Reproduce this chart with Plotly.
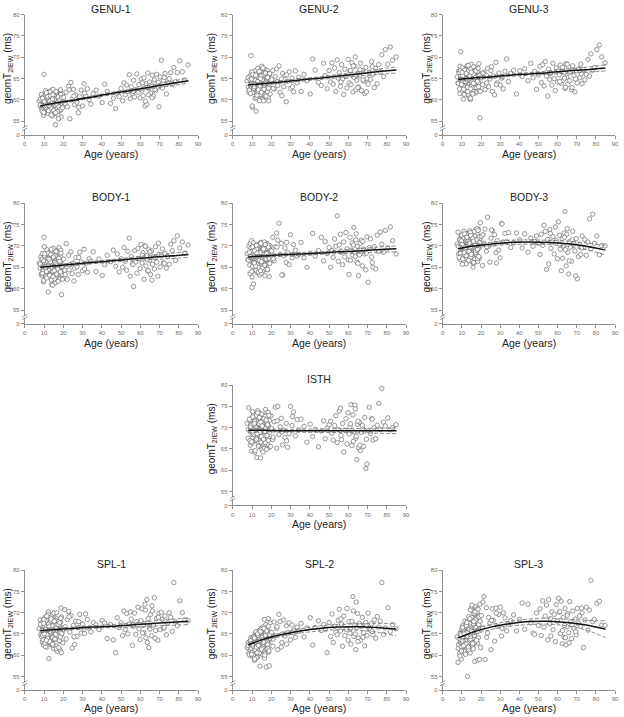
import plotly.graph_objects as go

# ---------------- data ----------------
AGE = [
    7.5, 8.0, 8.3, 8.8, 9.1, 9.4, 9.7, 10.0, 10.2, 10.5,
    10.8, 11.0, 11.3, 11.5, 11.8, 12.0, 12.2, 12.5, 12.7, 13.0,
    13.2, 13.4, 13.6, 13.9, 14.1, 14.3, 14.5, 14.8, 15.0, 15.2,
    15.4, 15.6, 15.9, 16.1, 16.3, 16.5, 16.7, 17.0, 17.2, 17.4,
    17.6, 17.8, 18.0, 18.2, 18.4, 18.6, 18.9, 19.1, 19.4, 19.8,
    8.1, 8.6, 9.0, 9.5, 9.9, 10.3, 10.7, 11.1, 11.6, 12.1,
    12.4, 12.8, 13.1, 13.5, 13.8, 14.0, 14.4, 14.7, 15.1, 15.5,
    15.8, 16.0, 16.4, 16.8, 17.1, 17.5, 17.9, 18.3, 18.7, 19.0,
    9.2, 9.8, 10.4, 10.9, 11.4, 11.9, 12.3, 12.9, 13.3, 13.7,
    14.2, 14.6, 14.9, 15.3, 15.7, 16.2, 16.6, 16.9, 17.3, 17.7,
    18.1, 18.5, 18.8, 19.2, 19.6, 10.1, 11.2, 12.6, 14.4, 16.0,
    20.2, 20.8, 21.5, 22.1, 22.8, 23.4, 24.0, 24.6, 25.2, 25.9,
    26.5, 27.1, 27.8, 28.5, 29.3, 30.0, 30.8, 31.6, 32.5, 33.4,
    34.3, 35.5, 37.0, 38.5, 40.2, 41.5, 42.8, 44.5, 46.0, 47.2,
    48.0, 49.0, 50.0, 50.8, 51.5, 52.2, 52.9, 53.5, 54.2, 54.8,
    55.3, 55.9, 56.5, 57.0, 57.6, 58.2, 58.8, 59.3, 59.9, 60.4,
    60.9, 61.4, 61.9, 62.4, 62.9, 63.4, 63.9, 64.4, 64.8, 65.3,
    65.8, 66.3, 66.8, 67.3, 67.9, 68.5, 69.1, 69.7, 70.3, 70.9,
    71.5, 72.1, 72.8, 73.5, 74.2, 75.0, 75.8, 76.6, 77.4, 78.3,
    79.2, 80.5, 81.8, 83.0, 84.8, 21.0, 23.0, 25.5, 28.0, 31.0,
    56.2, 61.1, 62.6, 63.6, 64.1, 65.0, 66.0, 67.6, 69.4, 72.4,
]

GENU_1 = [
    59.8, 58.5, 60.2, 57.9, 59.1, 61.0, 56.4, 66.0, 58.7, 60.5,
    57.6, 59.9, 61.5, 58.3, 60.8, 56.9, 59.4, 62.0, 58.0, 60.1,
    61.2, 57.3, 59.6, 58.8, 62.3, 56.2, 60.4, 59.0, 57.7, 61.6,
    58.4, 60.9, 54.2, 59.3, 57.1, 61.8, 58.9, 60.3, 56.6, 59.7,
    61.1, 58.1, 60.6, 57.5, 62.1, 59.2, 56.0, 60.0, 58.6, 61.4,
    58.9, 61.3, 57.4, 60.7, 59.5, 57.0, 62.2, 58.2, 60.3, 59.0,
    60.0, 57.8, 61.9, 59.1, 56.5, 60.6, 58.3, 62.5, 59.8, 57.2,
    60.2, 58.5, 61.7, 57.9, 59.6, 55.6, 60.9, 58.0, 61.3, 59.3,
    60.4, 57.1, 59.2, 61.4, 58.6, 60.8, 57.5, 59.7, 61.0, 58.1,
    59.4, 61.2, 57.6, 60.1, 58.8, 62.0, 59.0, 57.3, 60.7, 58.4,
    59.9, 62.4, 57.8, 60.5, 58.2, 59.6, 61.7, 58.7, 60.2, 57.0,
    60.6, 59.0, 61.8, 58.4, 63.2, 55.6, 64.1, 60.2, 62.5, 58.9,
    61.2, 59.5, 57.0, 60.8, 62.3, 58.6, 63.8, 61.0, 62.6, 60.1,
    59.0, 61.5, 62.3, 60.9, 59.4, 63.7, 62.0, 59.2, 60.4, 58.0,
    61.5, 60.8, 62.7, 59.8, 64.0, 61.2, 63.5, 62.0, 65.9, 60.3,
    63.1, 61.5, 64.6, 60.7, 62.4, 66.1, 61.8, 63.6, 60.5, 64.9,
    62.3, 61.0, 65.2, 58.6, 63.8, 59.0, 66.3, 62.7, 64.2, 61.6,
    63.5, 65.8, 60.9, 64.7, 62.2, 66.0, 63.0, 58.4, 65.4, 69.3,
    62.8, 64.6, 66.2, 61.4, 63.9, 65.0, 66.4, 63.6, 67.6, 64.3,
    66.4, 69.2, 66.6, 64.7, 68.2, 59.2, 62.4, 60.9, 58.3, 61.6,
    62.0, 64.0, 59.7, 62.9, 61.2, 63.3, 60.5, 62.5, 64.1, 65.3,
]

GENU_2 = [
    64.5, 63.0, 61.8, 65.6, 62.5, 70.4, 64.0, 66.3, 58.3, 63.4,
    65.9, 62.1, 64.7, 60.4, 66.8, 63.3, 65.2, 61.6, 64.1, 67.4,
    62.9, 65.5, 60.9, 64.4, 66.2, 63.7, 61.3, 65.0, 67.9, 62.4,
    64.8, 60.2, 66.5, 63.1, 65.4, 61.0, 64.2, 67.1, 62.7, 65.8,
    63.6, 66.9, 61.9, 64.9, 60.6, 65.7, 63.0, 66.0, 61.4, 64.3,
    65.2, 62.3, 64.8, 63.2, 66.6, 61.7, 65.5, 62.8, 64.6, 57.4,
    66.1, 63.9, 62.0, 65.3, 59.9, 64.0, 66.8, 62.6, 63.5, 65.0,
    62.2, 65.9, 63.4, 61.2, 66.4, 64.5, 62.9, 65.1, 59.8, 63.8,
    61.5, 64.9, 66.0, 62.7, 63.7, 65.8, 60.6, 64.3, 62.4, 66.7,
    63.3, 65.6, 61.8, 64.7, 67.5, 62.5, 63.9, 66.3, 60.9, 64.1,
    65.3, 62.8, 63.7, 66.2, 64.6, 58.6, 63.1, 61.1, 65.0, 59.8,
    64.8, 66.9, 62.6, 65.5, 67.3, 63.4, 68.0, 61.8, 64.9, 66.2,
    63.1, 65.7, 59.6, 64.4, 66.6, 62.7, 65.1, 61.9, 66.8, 64.0,
    65.3, 62.0, 66.0, 64.5, 61.4, 69.6, 67.0, 64.1, 63.4, 68.6,
    65.7, 62.6, 66.9, 64.2, 68.7, 63.7, 67.5, 62.0, 69.4, 65.1,
    66.4, 63.2, 68.3, 64.9, 61.3, 67.2, 65.5, 62.8, 69.5, 64.0,
    66.8, 63.6, 68.7, 61.9, 65.3, 67.9, 62.4, 64.6, 66.1, 63.0,
    65.7, 68.6, 62.2, 66.9, 64.4, 61.5, 67.6, 65.0, 63.7, 66.3,
    64.8, 69.0, 66.0, 62.9, 67.4, 63.8, 68.3, 66.6, 70.6, 65.5,
    71.8, 68.4, 72.4, 69.3, 70.1, 62.7, 64.3, 61.0, 65.9, 63.1,
    64.2, 66.9, 68.0, 70.1, 65.8, 62.9, 67.1, 64.7, 61.9, 67.8,
]

GENU_3 = [
    65.4, 64.0, 66.7, 62.6, 67.9, 71.3, 65.0, 63.5, 66.3, 64.6,
    60.2, 66.0, 63.8, 67.2, 65.2, 62.1, 66.6, 64.4, 68.0, 63.1,
    65.8, 61.0, 67.4, 64.9, 62.8, 66.2, 60.1, 65.5, 68.3, 63.6,
    64.3, 66.9, 62.3, 65.7, 67.7, 63.4, 65.1, 61.6, 66.4, 64.7,
    67.0, 63.0, 65.9, 62.7, 66.5, 64.2, 68.5, 63.7, 55.8, 65.3,
    63.9, 66.4, 61.5, 65.6, 64.1, 67.5, 63.2, 66.1, 62.4, 65.0,
    67.1, 64.5, 62.0, 66.8, 65.3, 60.5, 64.8, 67.3, 63.3, 65.9,
    62.9, 66.0, 64.6, 67.6, 63.5, 65.4, 61.9, 66.7, 64.0, 62.2,
    66.9, 63.6, 65.7, 62.5, 67.0, 64.3, 66.2, 63.0, 68.1, 64.9,
    65.6, 62.6, 66.5, 64.2, 61.4, 67.8, 63.8, 65.2, 66.8, 62.9,
    64.4, 67.4, 63.1, 65.8, 62.0, 66.5, 61.3, 64.7, 60.4, 63.9,
    65.2, 63.6, 66.4, 62.4, 65.8, 67.4, 63.1, 64.9, 66.9, 62.0,
    65.6, 61.2, 68.8, 64.0, 66.3, 63.5, 65.1, 62.6, 66.7, 69.6,
    64.3, 66.2, 67.0, 61.4, 66.8, 65.5, 67.3, 64.5, 68.6, 65.2,
    66.7, 62.5, 65.9, 67.9, 64.1, 68.3, 63.3, 69.0, 65.6, 60.9,
    67.2, 64.8, 66.3, 63.5, 68.6, 65.0, 62.2, 67.5, 64.2, 66.8,
    65.9, 68.2, 63.9, 67.0, 64.6, 66.4, 62.7, 68.5, 65.3, 63.6,
    67.8, 64.5, 66.6, 62.4, 68.0, 65.7, 61.9, 66.9, 64.0, 67.3,
    65.2, 68.4, 63.8, 67.1, 64.7, 66.0, 69.5, 65.6, 70.8, 67.0,
    67.6, 71.8, 72.9, 70.1, 68.7, 66.3, 64.0, 67.8, 63.6, 65.4,
    66.2, 64.3, 67.6, 65.1, 63.0, 68.4, 66.5, 62.9, 64.9, 66.1,
]

BODY_1 = [
    66.0, 64.8, 67.4, 63.1, 68.2, 65.3, 61.6, 72.0, 66.6, 64.2,
    67.0, 62.7, 65.8, 69.1, 63.9, 66.3, 59.2, 64.6, 67.9, 65.1,
    63.4, 68.6, 66.1, 62.0, 65.5, 67.3, 64.0, 69.4, 63.0, 66.8,
    65.2, 61.3, 67.8, 64.4, 66.5, 62.6, 68.9, 65.6, 63.7, 67.1,
    64.1, 69.6, 65.9, 62.4, 67.5, 64.7, 66.2, 58.6, 63.3, 65.0,
    65.7, 63.5, 66.9, 64.3, 61.9, 67.6, 65.1, 62.9, 66.4, 68.3,
    64.5, 66.7, 63.2, 68.0, 65.4, 61.0, 67.2, 64.9, 66.0, 62.3,
    67.7, 65.3, 63.8, 68.5, 64.6, 66.6, 62.1, 65.9, 69.0, 64.0,
    63.6, 66.5, 68.1, 64.8, 62.5, 67.0, 65.5, 63.1, 66.3, 69.2,
    65.0, 62.8, 67.4, 64.2, 66.1, 68.7, 63.4, 65.8, 61.7, 67.1,
    66.4, 63.9, 68.3, 65.2, 62.2, 69.8, 64.0, 66.9, 60.8, 65.6,
    66.9, 64.3, 70.5, 62.2, 67.8, 65.6, 68.6, 63.5, 66.0, 64.8,
    67.3, 65.1, 63.3, 68.5, 66.2, 64.2, 69.2, 65.9, 63.8, 67.0,
    66.4, 68.6, 64.0, 66.9, 63.1, 65.6, 67.8, 66.3, 69.0, 65.2,
    68.1, 63.9, 67.0, 65.0, 69.6, 66.4, 64.3, 68.7, 71.8, 62.9,
    67.5, 65.8, 60.5, 68.9, 66.2, 63.6, 69.4, 67.0, 64.7, 70.3,
    66.0, 68.4, 62.2, 70.0, 65.3, 67.7, 64.1, 69.1, 66.6, 63.3,
    68.8, 65.7, 67.4, 64.6, 69.8, 66.2, 62.9, 68.0, 65.1, 67.9,
    69.3, 66.0, 68.2, 64.8, 67.5, 65.7, 70.4, 68.9, 71.2, 66.6,
    72.3, 69.5, 70.9, 68.3, 70.2, 63.3, 64.4, 61.8, 67.3, 64.6,
    65.6, 67.8, 69.9, 66.8, 64.2, 68.6, 62.0, 67.2, 70.6, 65.9,
]

BODY_2 = [
    68.2, 66.8, 69.9, 65.5, 70.6, 67.4, 71.2, 60.3, 68.8, 66.1,
    61.1, 69.4, 67.0, 64.6, 70.1, 66.5, 68.6, 63.8, 69.7, 67.2,
    65.9, 70.4, 67.8, 63.2, 69.0, 66.3, 70.8, 64.8, 68.3, 66.9,
    69.5, 64.1, 67.6, 70.2, 65.4, 68.9, 63.0, 67.1, 69.8, 65.7,
    67.9, 70.5, 64.4, 68.4, 66.0, 69.3, 62.8, 67.5, 70.0, 66.6,
    66.7, 68.5, 63.5, 69.6, 67.3, 65.2, 70.7, 66.2, 68.1, 64.3,
    69.2, 65.6, 67.7, 64.9, 70.3, 66.4, 68.7, 63.6, 67.0, 69.1,
    65.0, 68.0, 70.9, 66.8, 64.6, 69.4, 67.2, 65.8, 70.2, 68.6,
    67.5, 64.0, 69.8, 66.1, 68.8, 65.3, 70.1, 67.9, 63.9, 66.6,
    68.4, 70.6, 66.3, 64.8, 69.0, 67.4, 65.5, 70.3, 66.9, 68.2,
    64.5, 69.7, 67.1, 65.9, 68.9, 62.7, 66.0, 68.3, 64.2, 69.3,
    68.8, 72.0, 66.5, 69.8, 73.0, 71.3, 75.3, 68.0, 70.6, 63.2,
    67.7, 69.5, 66.1, 68.4, 65.6, 72.6, 67.2, 70.3, 69.0, 67.6,
    68.0, 70.8, 67.2, 65.0, 68.3, 72.9, 67.6, 68.9, 72.0, 66.5,
    71.0, 68.2, 69.6, 65.0, 68.9, 67.3, 71.6, 69.9, 77.0, 66.4,
    70.2, 72.7, 68.5, 65.6, 70.9, 67.4, 73.1, 69.3, 66.7, 63.3,
    72.0, 69.0, 70.7, 67.8, 74.3, 68.5, 71.4, 66.2, 69.9, 63.0,
    67.9, 70.6, 71.3, 65.3, 69.2, 68.1, 64.4, 72.1, 61.5, 69.6,
    71.6, 67.4, 65.0, 69.8, 64.6, 72.5, 68.7, 73.2, 70.4, 68.5,
    73.6, 69.5, 74.4, 71.2, 68.1, 67.0, 69.7, 63.2, 70.8, 68.0,
    68.8, 66.6, 70.2, 67.5, 72.8, 65.9, 69.0, 71.0, 68.3, 66.1,
]

BODY_3 = [
    70.4, 73.2, 68.1, 71.5, 66.8, 69.7, 72.4, 67.5, 70.9, 68.8,
    71.8, 66.2, 69.4, 73.0, 67.9, 70.2, 65.8, 72.0, 68.5, 71.2,
    69.0, 72.9, 67.2, 70.6, 73.5, 68.3, 71.6, 66.4, 69.8, 72.2,
    67.6, 70.9, 65.0, 72.6, 69.3, 71.9, 66.9, 70.3, 73.8, 68.0,
    71.3, 68.7, 72.8, 66.3, 70.0, 73.9, 69.5, 67.1, 71.7, 70.7,
    69.9, 67.3, 71.4, 68.6, 72.5, 65.7, 70.5, 73.4, 67.8, 70.1,
    72.7, 68.9, 70.3, 66.6, 71.0, 69.2, 73.1, 67.4, 70.8, 68.2,
    71.5, 66.0, 69.6, 72.3, 68.4, 70.7, 74.0, 67.0, 69.4, 72.1,
    68.3, 71.1, 66.9, 70.0, 72.8, 69.1, 67.7, 71.9, 70.4, 68.7,
    70.6, 72.4, 68.0, 69.5, 71.7, 66.1, 73.3, 70.2, 68.9, 71.4,
    69.2, 73.6, 67.5, 70.8, 75.4, 70.3, 68.4, 72.0, 69.6, 71.1,
    72.2, 65.4, 70.6, 73.9, 68.7, 76.7, 69.9, 66.2, 71.8, 73.6,
    70.4, 72.6, 68.4, 71.2, 69.0, 67.2, 75.2, 70.9, 72.9, 71.0,
    73.1, 69.6, 70.7, 73.0, 71.4, 69.5, 72.8, 68.5, 71.8, 69.9,
    71.0, 72.3, 70.6, 68.0, 72.7, 70.1, 74.8, 73.4, 64.5, 71.5,
    65.8, 73.8, 69.4, 70.9, 72.2, 68.1, 74.4, 71.2, 67.0, 75.6,
    72.5, 69.2, 64.2, 71.6, 70.0, 73.0, 78.0, 65.3, 72.7, 68.5,
    63.4, 71.0, 69.7, 66.4, 73.4, 70.5, 68.8, 71.7, 62.3, 67.5,
    70.3, 68.0, 72.3, 69.6, 71.5, 67.8, 70.9, 76.3, 69.4, 77.4,
    70.6, 72.3, 67.9, 70.1, 70.0, 72.6, 69.8, 73.7, 66.0, 75.1,
    72.9, 70.2, 67.1, 72.0, 69.1, 74.0, 66.5, 71.4, 63.0, 69.5,
]

ISTH = [
    71.0, 67.5, 74.7, 69.2, 65.9, 70.8, 64.5, 72.3, 68.4, 66.8,
    73.1, 68.9, 64.2, 71.6, 67.1, 70.2, 72.9, 63.0, 69.7, 74.0,
    66.3, 71.9, 68.2, 73.4, 65.5, 70.5, 67.8, 72.6, 69.0, 64.8,
    70.9, 66.9, 73.0, 68.6, 71.3, 65.2, 69.9, 74.3, 67.4, 71.1,
    68.1, 72.2, 66.0, 70.3, 73.6, 67.2, 71.7, 65.4, 69.5, 72.8,
    69.6, 72.0, 67.0, 70.6, 66.4, 73.8, 68.7, 71.4, 64.6, 70.0,
    67.6, 71.2, 69.3, 65.8, 72.4, 68.3, 70.7, 66.6, 73.2, 69.1,
    71.8, 68.0, 66.2, 72.7, 69.8, 64.9, 71.0, 67.7, 70.4, 68.8,
    70.1, 66.7, 72.5, 68.5, 71.5, 69.4, 67.3, 73.5, 65.7, 70.9,
    68.9, 71.3, 67.9, 70.4, 64.3, 72.1, 69.1, 66.5, 71.8, 68.2,
    70.7, 67.0, 72.9, 69.6, 65.6, 69.0, 71.0, 68.6, 62.9, 67.3,
    69.8, 67.2, 71.4, 74.8, 65.2, 75.0, 68.4, 70.2, 72.2, 66.0,
    69.4, 67.7, 71.0, 65.4, 68.6, 75.0, 70.5, 73.7, 68.1, 71.9,
    69.5, 72.0, 70.3, 66.6, 70.8, 67.9, 69.6, 65.5, 69.2, 71.6,
    67.4, 69.9, 70.7, 71.5, 68.7, 67.1, 70.5, 72.8, 66.5, 69.6,
    73.9, 74.6, 67.2, 71.0, 64.3, 69.4, 72.1, 66.2, 73.5, 68.5,
    70.2, 75.4, 65.8, 73.0, 69.0, 75.3, 67.5, 62.5, 70.8, 65.3,
    71.3, 64.6, 68.9, 70.5, 65.6, 72.4, 60.4, 61.5, 69.3, 74.8,
    68.6, 72.1, 67.1, 70.0, 67.4, 70.6, 75.7, 69.6, 79.2, 71.3,
    70.4, 72.3, 69.5, 70.0, 70.7, 67.8, 71.6, 69.0, 66.9, 72.6,
    68.2, 70.9, 66.8, 74.4, 68.0, 71.5, 65.9, 69.7, 67.3, 72.0,
]

SPL_1 = [
    66.2, 68.3, 64.9, 67.6, 63.1, 65.8, 62.4, 66.9, 64.2, 68.9,
    65.3, 63.8, 67.2, 61.9, 66.5, 64.6, 70.2, 59.2, 65.9, 68.0,
    63.5, 67.8, 65.1, 69.3, 62.7, 66.6, 64.3, 68.5, 61.6, 66.0,
    69.8, 64.0, 67.0, 62.2, 65.6, 68.6, 60.9, 66.3, 63.9, 67.4,
    65.0, 68.1, 63.3, 66.8, 61.2, 67.7, 64.7, 69.0, 65.4, 62.9,
    67.3, 64.4, 66.0, 63.6, 68.4, 65.2, 62.0, 67.0, 64.8, 69.6,
    66.7, 63.0, 68.8, 65.5, 62.5, 67.1, 64.1, 66.4, 69.9, 63.7,
    65.7, 68.2, 61.5, 66.5, 64.5, 67.9, 63.4, 65.3, 68.7, 60.6,
    64.7, 67.5, 62.8, 66.1, 69.2, 64.0, 67.3, 63.2, 65.6, 68.5,
    66.9, 62.3, 65.8, 68.0, 63.8, 66.4, 70.0, 64.6, 67.2, 61.8,
    67.6, 64.3, 71.1, 65.1, 66.3, 65.0, 63.5, 66.8, 62.6, 64.9,
    66.1, 70.7, 63.8, 68.4, 70.3, 65.4, 69.3, 61.7, 67.0, 62.5,
    68.0, 64.4, 66.5, 69.6, 65.2, 67.3, 66.0, 69.7, 68.4, 66.4,
    65.5, 67.7, 67.1, 66.0, 68.2, 67.6, 63.9, 67.2, 63.6, 60.6,
    68.8, 66.5, 67.6, 64.6, 70.4, 66.0, 69.8, 65.0, 67.3, 70.2,
    68.5, 62.3, 66.8, 69.9, 64.9, 67.9, 71.3, 66.2, 63.7, 68.1,
    70.9, 67.0, 65.3, 72.0, 64.1, 73.1, 67.5, 61.8, 66.4, 69.6,
    64.6, 70.4, 67.1, 73.5, 65.8, 68.7, 63.5, 69.9, 66.0, 70.1,
    68.4, 66.3, 69.2, 64.8, 67.6, 70.0, 68.9, 65.6, 77.1, 67.8,
    66.9, 72.8, 70.0, 68.3, 68.1, 66.7, 69.0, 64.3, 67.9, 65.1,
    67.1, 65.2, 70.6, 63.0, 68.6, 66.1, 71.6, 64.0, 68.9, 66.6,
]

SPL_2 = [
    61.8, 63.0, 60.5, 62.6, 61.2, 64.1, 59.8, 62.9, 60.9, 63.7,
    61.5, 64.4, 58.8, 62.3, 65.2, 60.3, 63.5, 61.0, 64.8, 59.6,
    62.7, 65.6, 60.6, 63.9, 57.4, 64.5, 61.7, 66.3, 62.1, 64.9,
    60.2, 63.4, 66.7, 61.9, 64.7, 59.3, 65.9, 62.8, 67.2, 57.2,
    64.2, 61.4, 66.0, 63.1, 68.6, 60.7, 65.3, 62.4, 67.6, 63.8,
    62.2, 60.1, 63.3, 61.6, 62.5, 64.0, 60.0, 63.6, 61.3, 65.5,
    59.4, 63.2, 64.6, 61.1, 65.8, 62.0, 60.8, 66.1, 63.0, 61.8,
    64.3, 62.6, 68.4, 60.4, 65.1, 63.7, 66.6, 61.5, 64.9, 57.5,
    63.4, 60.2, 62.1, 64.3, 59.1, 63.0, 61.9, 65.0, 62.3, 60.5,
    63.3, 65.4, 61.4, 64.2, 62.9, 66.3, 60.0, 64.6, 63.5, 65.7,
    62.5, 66.8, 61.0, 64.8, 63.9, 62.4, 64.0, 60.6, 65.6, 63.1,
    65.4, 62.1, 67.8, 64.6, 66.3, 61.3, 69.6, 67.9, 61.9, 65.0,
    68.3, 64.5, 66.9, 65.3, 67.6, 63.6, 67.1, 65.8, 64.2, 66.6,
    65.7, 67.5, 64.3, 66.4, 68.8, 62.4, 66.5, 68.1, 65.8, 67.2,
    66.0, 60.6, 67.7, 64.4, 69.7, 63.0, 66.8, 65.4, 64.8, 68.2,
    70.8, 65.7, 67.3, 62.1, 69.2, 64.6, 66.1, 71.0, 63.5, 67.9,
    65.2, 62.6, 68.0, 73.8, 64.4, 67.1, 61.3, 66.5, 69.8, 64.0,
    67.5, 63.4, 66.8, 68.9, 65.3, 62.2, 67.7, 64.6, 69.9, 66.3,
    65.9, 67.4, 64.8, 68.3, 64.0, 69.1, 66.6, 68.0, 77.1, 64.9,
    66.4, 71.2, 65.6, 67.2, 66.2, 63.8, 66.7, 63.0, 62.6, 65.3,
    68.5, 66.2, 70.4, 65.0, 72.5, 63.2, 67.0, 64.2, 66.9, 65.6,
]

SPL_3 = [
    64.3, 58.3, 62.5, 60.4, 65.1, 63.0, 59.1, 66.2, 61.7, 64.0,
    62.8, 65.8, 60.7, 68.0, 63.5, 66.6, 61.2, 64.7, 67.3, 55.0,
    66.0, 62.1, 69.1, 64.2, 67.6, 60.5, 65.5, 71.0, 63.2, 68.4,
    65.0, 70.4, 62.4, 67.1, 64.5, 69.6, 58.5, 66.4, 71.4, 63.7,
    68.7, 65.7, 70.0, 62.8, 67.8, 64.1, 69.3, 66.1, 72.0, 61.8,
    61.6, 63.9, 59.8, 64.8, 62.0, 66.9, 63.4, 60.9, 65.6, 62.6,
    67.5, 64.4, 68.1, 61.3, 66.3, 63.6, 70.6, 65.2, 68.9, 62.3,
    64.0, 67.4, 69.8, 63.0, 68.3, 65.4, 70.9, 58.8, 66.8, 69.0,
    63.1, 61.0, 66.5, 62.2, 64.9, 60.2, 67.0, 65.3, 61.9, 66.0,
    68.6, 63.8, 65.9, 71.8, 62.7, 67.9, 64.6, 70.2, 66.5, 63.5,
    65.6, 70.8, 67.2, 59.0, 68.0, 63.3, 65.0, 67.7, 64.4, 61.5,
    69.3, 66.4, 73.8, 59.0, 71.2, 65.2, 68.9, 67.5, 61.3, 70.9,
    68.2, 63.3, 71.1, 66.8, 69.6, 71.3, 64.5, 70.0, 68.8, 65.7,
    67.3, 68.1, 69.5, 65.7, 68.4, 72.3, 66.1, 72.0, 67.6, 65.2,
    64.9, 69.9, 67.0, 70.9, 64.6, 72.8, 66.6, 69.2, 71.8, 63.6,
    73.1, 67.4, 64.5, 70.2, 66.0, 69.6, 63.2, 71.9, 68.0, 73.4,
    70.1, 65.1, 72.7, 62.7, 68.9, 64.2, 71.0, 62.4, 66.7, 69.8,
    65.3, 72.6, 67.8, 63.9, 70.4, 66.3, 68.5, 64.8, 71.0, 67.4,
    69.2, 66.8, 70.0, 61.8, 68.3, 71.3, 65.9, 70.6, 77.6, 67.9,
    68.4, 72.2, 72.7, 67.1, 67.0, 72.5, 64.2, 68.2, 69.9, 66.3,
    68.6, 70.3, 65.8, 67.0, 64.1, 69.4, 62.9, 67.2, 65.5, 71.1,
]

# fitted curves with their confidence bands, read at these ages
FIT_AGE = [8, 15, 25, 35, 45, 55, 65, 75, 85]

GENU_1_FIT = [58.6, 59.2, 59.9, 60.7, 61.5, 62.2, 63.0, 63.8, 64.5]
GENU_1_LO = [58.1, 58.9, 59.65, 60.45, 61.2, 61.9, 62.6, 63.3, 63.9]
GENU_1_HI = [59.1, 59.5, 60.15, 60.95, 61.8, 62.5, 63.4, 64.3, 65.1]

GENU_2_FIT = [63.5, 63.8, 64.2, 64.7, 65.1, 65.6, 66.1, 66.6, 67.0]
GENU_2_LO = [63.0, 63.45, 63.9, 64.35, 64.8, 65.2, 65.6, 66.0, 66.3]
GENU_2_HI = [64.0, 64.15, 64.5, 65.05, 65.4, 66.0, 66.6, 67.2, 67.7]

GENU_3_FIT = [64.8, 65.1, 65.4, 65.8, 66.1, 66.4, 66.8, 67.1, 67.5]
GENU_3_LO = [64.3, 64.75, 65.1, 65.5, 65.8, 66.0, 66.3, 66.5, 66.8]
GENU_3_HI = [65.3, 65.45, 65.7, 66.1, 66.4, 66.8, 67.3, 67.7, 68.2]

BODY_1_FIT = [65.0, 65.3, 65.7, 66.1, 66.5, 66.9, 67.3, 67.6, 68.0]
BODY_1_LO = [64.5, 64.95, 65.4, 65.8, 66.2, 66.5, 66.8, 67.0, 67.3]
BODY_1_HI = [65.5, 65.65, 66.0, 66.4, 66.8, 67.3, 67.8, 68.2, 68.7]

BODY_2_FIT = [67.4, 67.6, 67.9, 68.1, 68.3, 68.6, 68.8, 69.1, 69.3]
BODY_2_LO = [66.9, 67.25, 67.6, 67.8, 68.0, 68.2, 68.3, 68.5, 68.6]
BODY_2_HI = [67.9, 67.95, 68.2, 68.4, 68.6, 69.0, 69.3, 69.7, 70.0]

BODY_3_FIT = [69.3, 69.9, 70.4, 70.8, 70.9, 70.8, 70.5, 69.9, 69.0]
BODY_3_LO = [68.6, 69.4, 70.0, 70.3, 70.4, 70.3, 69.9, 69.1, 67.9]
BODY_3_HI = [70.0, 70.4, 70.8, 71.3, 71.4, 71.3, 71.1, 70.7, 70.1]

ISTH_FIT = [69.4, 69.4, 69.3, 69.3, 69.3, 69.3, 69.3, 69.3, 69.3]
ISTH_LO = [68.9, 69.0, 69.0, 68.95, 68.9, 68.85, 68.8, 68.7, 68.6]
ISTH_HI = [69.9, 69.8, 69.6, 69.65, 69.7, 69.75, 69.8, 69.9, 70.0]

SPL_1_FIT = [65.8, 66.0, 66.3, 66.6, 66.8, 67.1, 67.4, 67.7, 68.0]
SPL_1_LO = [65.3, 65.65, 66.0, 66.3, 66.5, 66.6, 66.8, 67.0, 67.2]
SPL_1_HI = [66.3, 66.35, 66.6, 66.9, 67.2, 67.6, 68.0, 68.4, 68.8]

SPL_2_FIT = [62.4, 63.6, 64.8, 65.7, 66.3, 66.6, 66.7, 66.5, 66.1]
SPL_2_LO = [61.8, 63.2, 64.4, 65.2, 65.7, 66.0, 65.9, 65.4, 64.5]
SPL_2_HI = [63.0, 64.0, 65.2, 66.2, 66.9, 67.2, 67.4, 67.5, 67.4]

SPL_3_FIT = [64.0, 65.3, 66.6, 67.4, 67.9, 68.0, 67.7, 67.1, 66.1]
SPL_3_LO = [62.8, 64.6, 66.0, 66.8, 67.2, 67.3, 66.9, 65.9, 64.1]
SPL_3_HI = [65.6, 66.0, 67.2, 68.0, 68.5, 68.7, 68.5, 68.2, 68.1]

X_TICKS = [0, 10, 20, 30, 40, 50, 60, 70, 80, 90]
Y_TICK_LABELS = ["0", "55", "60", "65", "70", "75", "80"]
Y_TICK_VALUES = [55, 60, 65, 70, 75, 80]
Y_BREAK_BOTTOM = 51.75   # axis position that carries the "0" label below the break

PANELS = [
    ("GENU-1", GENU_1, GENU_1_FIT, GENU_1_LO, GENU_1_HI, 0, 0),
    ("GENU-2", GENU_2, GENU_2_FIT, GENU_2_LO, GENU_2_HI, 1, 0),
    ("GENU-3", GENU_3, GENU_3_FIT, GENU_3_LO, GENU_3_HI, 2, 0),
    ("BODY-1", BODY_1, BODY_1_FIT, BODY_1_LO, BODY_1_HI, 0, 1),
    ("BODY-2", BODY_2, BODY_2_FIT, BODY_2_LO, BODY_2_HI, 1, 1),
    ("BODY-3", BODY_3, BODY_3_FIT, BODY_3_LO, BODY_3_HI, 2, 1),
    ("ISTH", ISTH, ISTH_FIT, ISTH_LO, ISTH_HI, 1, 2),
    ("SPL-1", SPL_1, SPL_1_FIT, SPL_1_LO, SPL_1_HI, 0, 3),
    ("SPL-2", SPL_2, SPL_2_FIT, SPL_2_LO, SPL_2_HI, 1, 3),
    ("SPL-3", SPL_3, SPL_3_FIT, SPL_3_LO, SPL_3_HI, 2, 3),
]

for p in PANELS:
    assert len(p[1]) == len(AGE), (p[0], len(p[1]), len(AGE))

# ---------------- layout geometry (pixels) ----------------
W, H = 624, 717
COL_X = [(23, 198), (233, 408), (445, 619)]
ROW_Y = [(11.7, 133.3), (201.7, 323.7), (385.3, 506.7), (572.0, 693.0)]
XTITLE_OFF = [19, 19, 19, 18]
YTITLE_X = [6, 212, 429]

FONT = "Liberation Sans, Arial, sans-serif"
AXIS_COL = "#8f8f8f"
TICK_FONT = dict(family=FONT, size=6, color="#707070")


def px_x(v):
    return v / W


def px_y(v):
    return 1 - v / H


fig = go.Figure()
layout = dict(
    width=W, height=H, margin=dict(l=0, r=0, t=0, b=0),
    paper_bgcolor="white", plot_bgcolor="white", showlegend=False,
    font=dict(family=FONT, color="#222222", size=10),
)
annotations = []
shapes = []

for i, (name, yvals, fit, lo, hi, col, row) in enumerate(PANELS, start=1):
    xa = "x" if i == 1 else f"x{i}"
    ya = "y" if i == 1 else f"y{i}"
    xkey = "xaxis" if i == 1 else f"xaxis{i}"
    ykey = "yaxis" if i == 1 else f"yaxis{i}"
    x0, x1 = COL_X[col]
    y0, y1 = ROW_Y[row]

    fig.add_trace(go.Scatter(
        x=AGE, y=yvals, mode="markers", xaxis=xa, yaxis=ya,
        marker=dict(symbol="circle", size=4.4, color="white",
                    line=dict(color="#6c6c6c", width=0.7)),
        hoverinfo="skip"))
    for band in (lo, hi):
        fig.add_trace(go.Scatter(
            x=FIT_AGE, y=band, mode="lines", xaxis=xa, yaxis=ya,
            line=dict(color="#7a7a7a", width=0.9, dash="4px,2px", shape="spline"),
            hoverinfo="skip"))
    fig.add_trace(go.Scatter(
        x=FIT_AGE, y=fit, mode="lines", xaxis=xa, yaxis=ya,
        line=dict(color="#111111", width=1.5, shape="spline"),
        hoverinfo="skip"))

    layout[xkey] = dict(
        domain=[px_x(x0), px_x(x1)], anchor=ya, range=[0, 90],
        tickvals=X_TICKS, showline=True, linecolor=AXIS_COL, linewidth=1,
        ticks="outside", ticklen=3, tickcolor=AXIS_COL, tickwidth=1,
        tickfont=TICK_FONT, showgrid=False, zeroline=False, fixedrange=True)
    layout[ykey] = dict(
        domain=[px_y(y1), px_y(y0)], anchor=xa, range=[Y_BREAK_BOTTOM, 80],
        tickvals=[Y_BREAK_BOTTOM] + Y_TICK_VALUES, ticktext=Y_TICK_LABELS,
        showline=True, linecolor=AXIS_COL, linewidth=1,
        ticks="outside", ticklen=3, tickcolor=AXIS_COL, tickwidth=1,
        tickfont=TICK_FONT, showgrid=False, zeroline=False, fixedrange=True)

    cx = (x0 + x1) / 2
    # panel title
    annotations.append(dict(
        text=name, x=px_x(cx), y=px_y(y0 - 6), xref="paper", yref="paper",
        showarrow=False, xanchor="center", yanchor="middle",
        font=dict(family=FONT, size=10.5, color="#222222")))
    # x-axis title
    annotations.append(dict(
        text="Age (years)", x=px_x(cx), y=px_y(y1 + XTITLE_OFF[row]),
        xref="paper", yref="paper",
        showarrow=False, xanchor="center", yanchor="middle",
        font=dict(family=FONT, size=10.5, color="#222222")))
    # y-axis title
    annotations.append(dict(
        text="geomT<sub>2IEW</sub> (ms)", x=px_x(YTITLE_X[col]),
        y=px_y((y0 + y1) / 2 - 7), xref="paper", yref="paper",
        showarrow=False, xanchor="center", yanchor="middle", textangle=-90,
        font=dict(family=FONT, size=10, color="#222222")))

    # axis break mark on the y axis
    ppy = (y1 - y0) / (80 - Y_BREAK_BOTTOM)
    by = y1 - (53.4 - Y_BREAK_BOTTOM) * ppy
    shapes.append(dict(type="rect", xref="paper", yref="paper",
                       x0=px_x(x0 - 1.5), x1=px_x(x0 + 1.5),
                       y0=px_y(by + 1.2), y1=px_y(by - 1.2),
                       line=dict(width=0), fillcolor="white"))
    for d in (-1.3, 1.3):
        shapes.append(dict(type="line", xref="paper", yref="paper",
                           x0=px_x(x0 - 2.5), y0=px_y(by + d + 1.3),
                           x1=px_x(x0 + 2.5), y1=px_y(by + d - 1.3),
                           line=dict(color="#777777", width=0.8)))

layout["annotations"] = annotations
layout["shapes"] = shapes
fig.update_layout(**layout)
# the page's default 8px body margin would push the 624x717 figure off the window
fig.write_html("out.html", config={"displayModeBar": False},
               post_script="document.body.style.margin='0px';")
